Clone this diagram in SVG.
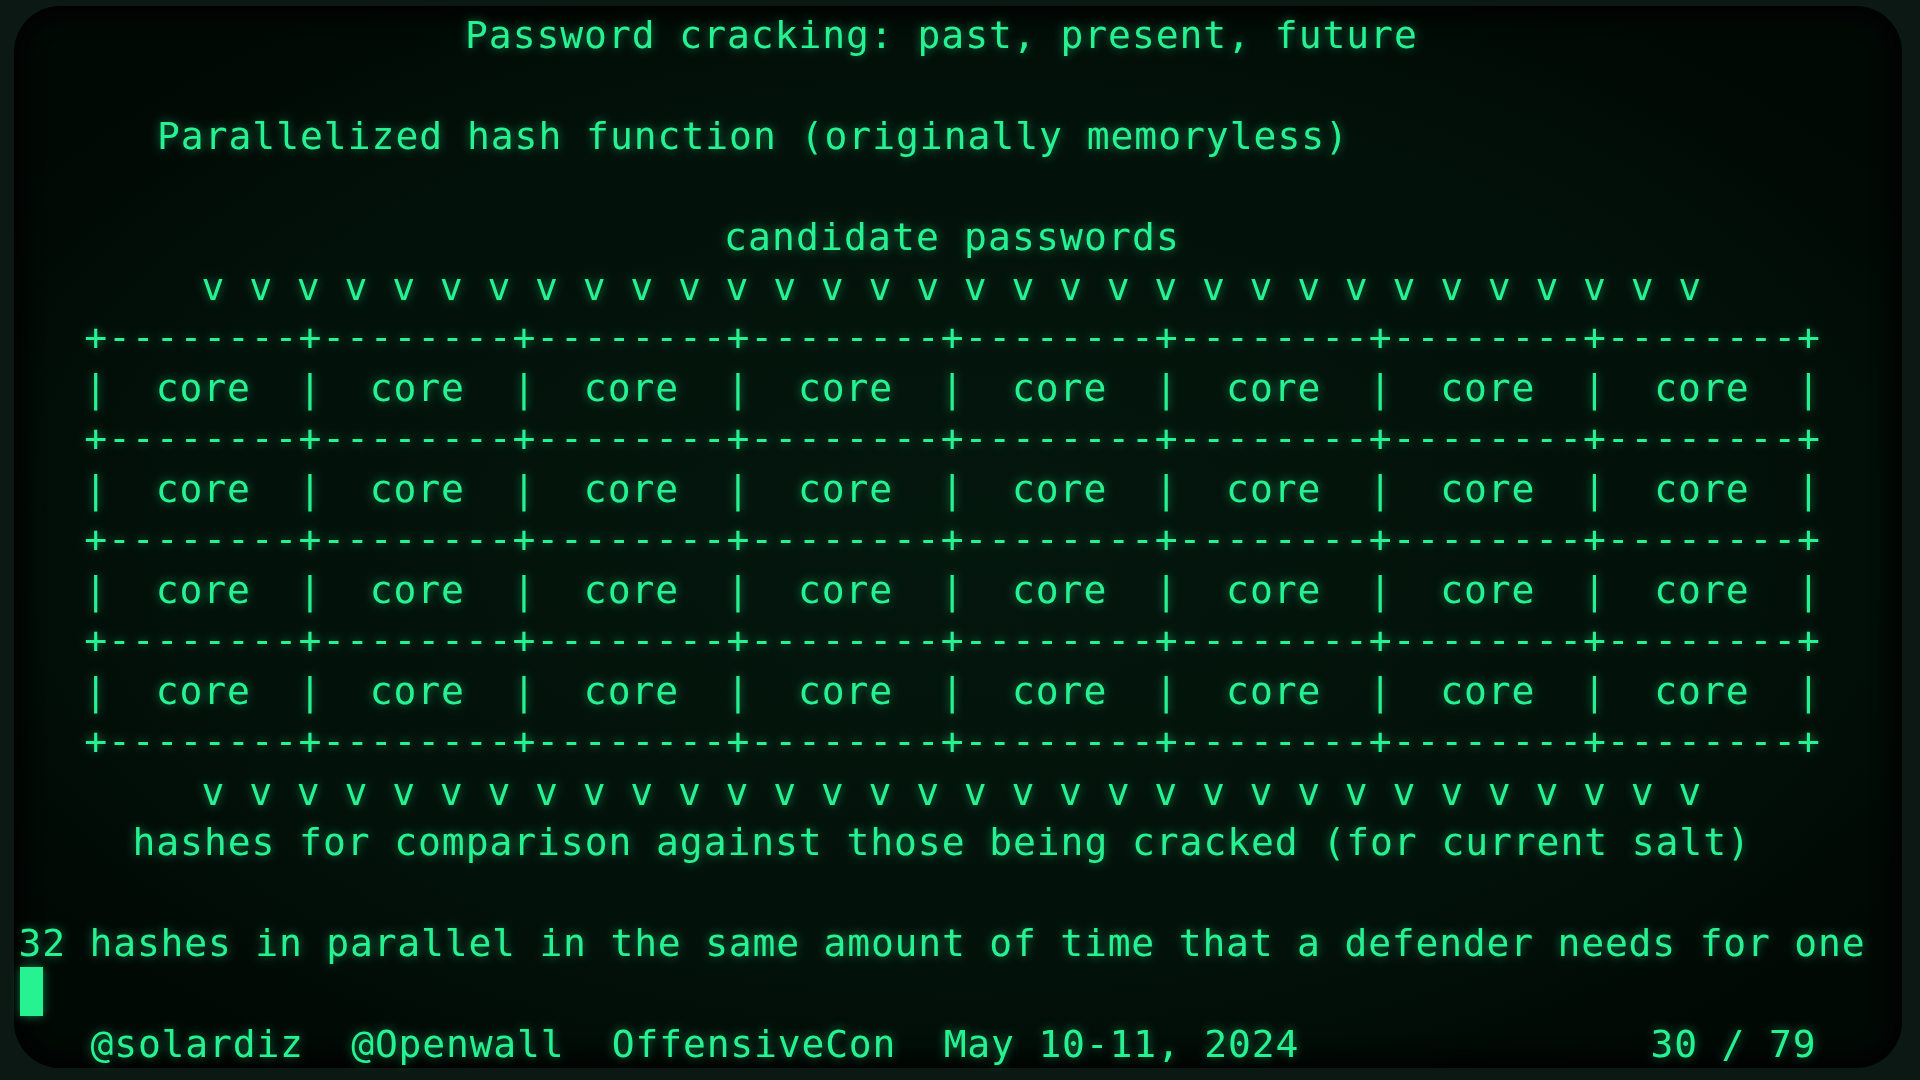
<svg xmlns="http://www.w3.org/2000/svg" width="1920" height="1080" viewBox="0 0 1920 1080">
  <defs>
    <radialGradient id="scr" cx="50%" cy="50%" r="60%">
      <stop offset="0" stop-color="#04170d"/>
      <stop offset="0.7" stop-color="#021109"/>
      <stop offset="1" stop-color="#010905"/>
    </radialGradient>
    <filter id="glow" x="-5%" y="-40%" width="110%" height="180%">
      <feGaussianBlur in="SourceGraphic" stdDeviation="5" result="b"/>
      <feComponentTransfer in="b" result="bb">
        <feFuncA type="linear" slope="0.5"/>
      </feComponentTransfer>
      <feMerge>
        <feMergeNode in="bb"/>
        <feMergeNode in="SourceGraphic"/>
      </feMerge>
    </filter>
    <filter id="edge" x="-5%" y="-5%" width="110%" height="110%">
      <feGaussianBlur stdDeviation="10"/>
    </filter>
    <clipPath id="scrClip">
      <rect x="14" y="6" width="1888" height="1062" rx="46"/>
    </clipPath>
  </defs>
  <style>
    .t { font-family: "DejaVu Sans Mono", "Liberation Mono", monospace; font-size: 38px; fill: #27f292; white-space: pre; }
  </style>

  <!-- bezel and screen -->
  <rect x="0" y="0" width="1920" height="1080" fill="#0c1813"/>
  <rect x="14" y="6" width="1888" height="1062" rx="46" fill="url(#scr)"/>
  <g clip-path="url(#scrClip)">
    <rect x="14" y="6" width="1888" height="1062" rx="46" fill="none" stroke="#000" stroke-width="22" opacity="0.85" filter="url(#edge)"/>
  </g>

  <g filter="url(#glow)">
    <g id="title">
      <text class="t" x="465" y="48" letter-spacing="0.94" xml:space="preserve">Password cracking: past, present, future</text>
    </g>
    <g id="subtitle">
      <text class="t" x="157" y="149" letter-spacing="0.96" xml:space="preserve">Parallelized hash function (originally memoryless)</text>
    </g>
    <g id="input-label">
      <text class="t" x="724" y="250" letter-spacing="1.12" xml:space="preserve">candidate passwords</text>
    </g>
    <g id="input-arrows">
      <text class="t" x="201.6" y="300" letter-spacing="0.94" xml:space="preserve">v v v v v v v v v v v v v v v v v v v v v v v v v v v v v v v v</text>
    </g>
    <g id="core-grid">
      <text class="t" x="84.3" y="350.4" letter-spacing="0.91" xml:space="preserve">+--------+--------+--------+--------+--------+--------+--------+--------+</text>
      <text class="t" x="84.3" y="400.9" letter-spacing="0.91" xml:space="preserve">|  core  |  core  |  core  |  core  |  core  |  core  |  core  |  core  |</text>
      <text class="t" x="84.3" y="451.3" letter-spacing="0.91" xml:space="preserve">+--------+--------+--------+--------+--------+--------+--------+--------+</text>
      <text class="t" x="84.3" y="501.8" letter-spacing="0.91" xml:space="preserve">|  core  |  core  |  core  |  core  |  core  |  core  |  core  |  core  |</text>
      <text class="t" x="84.3" y="552.2" letter-spacing="0.91" xml:space="preserve">+--------+--------+--------+--------+--------+--------+--------+--------+</text>
      <text class="t" x="84.3" y="602.7" letter-spacing="0.91" xml:space="preserve">|  core  |  core  |  core  |  core  |  core  |  core  |  core  |  core  |</text>
      <text class="t" x="84.3" y="653.1" letter-spacing="0.91" xml:space="preserve">+--------+--------+--------+--------+--------+--------+--------+--------+</text>
      <text class="t" x="84.3" y="703.6" letter-spacing="0.91" xml:space="preserve">|  core  |  core  |  core  |  core  |  core  |  core  |  core  |  core  |</text>
      <text class="t" x="84.3" y="754.0" letter-spacing="0.91" xml:space="preserve">+--------+--------+--------+--------+--------+--------+--------+--------+</text>
    </g>
    <g id="output-arrows">
      <text class="t" x="201.6" y="804.5" letter-spacing="0.94" xml:space="preserve">v v v v v v v v v v v v v v v v v v v v v v v v v v v v v v v v</text>
    </g>
    <g id="output-label">
      <text class="t" x="132.5" y="855" letter-spacing="0.92" xml:space="preserve">hashes for comparison against those being cracked (for current salt)</text>
    </g>
    <g id="summary">
      <text class="t" x="18.5" y="956" letter-spacing="0.80" xml:space="preserve">32 hashes in parallel in the same amount of time that a defender needs for one</text>
    </g>
    <g id="cursor">
      <rect x="20" y="967" width="23" height="49" fill="#27f292"/>
    </g>
    <g id="footer">
      <text class="t" x="90.5" y="1056.6" letter-spacing="0.82" xml:space="preserve">@solardiz  @Openwall  OffensiveCon  May 10-11, 2024</text>
      <text class="t" x="1650.5" y="1056.6" letter-spacing="0.82" xml:space="preserve">30 / 79</text>
    </g>
  </g>
</svg>
